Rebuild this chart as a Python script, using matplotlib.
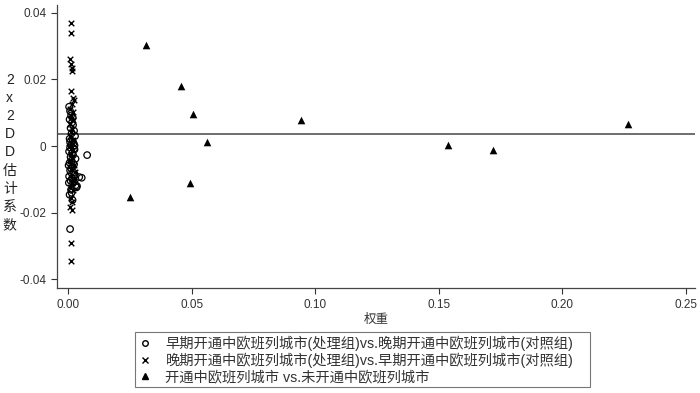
import matplotlib
matplotlib.use("Agg")
import matplotlib.pyplot as plt
from matplotlib.lines import Line2D

plt.rcParams['font.family'] = ['Liberation Sans', 'Noto Sans CJK SC']

# Series 1: early-opened (treated) vs late-opened (control)  -- circles
early_w = [0.0004, 0.0008, 0.0012, 0.0006, 0.0016, 0.0020, 0.0010, 0.0024, 0.0014, 0.0028,
           0.0006, 0.0018, 0.0022, 0.0012, 0.0008, 0.0026, 0.0004, 0.0016, 0.0020, 0.0010,
           0.0030, 0.0014, 0.0006, 0.0024, 0.0018, 0.0012, 0.0008, 0.0022, 0.0027, 0.0004,
           0.0016, 0.0010, 0.0020, 0.0030, 0.0034, 0.0012, 0.0006, 0.0018, 0.0077, 0.0055,
           0.0045, 0.0036, 0.0008, 0.0024, 0.0008, 0.0002, 0.0014, 0.0026, 0.0003, 0.0019]
early_b = [0.0118, 0.0105, 0.0092, 0.0080, 0.0071, 0.0063, 0.0054, 0.0046, 0.0038, 0.0030,
           0.0022, 0.0015, 0.0009, 0.0003, -0.0004, -0.0010, -0.0016, -0.0021, -0.0027, -0.0033,
           -0.0038, -0.0044, -0.0050, -0.0055, -0.0061, -0.0067, -0.0073, -0.0079, -0.0085, -0.0091,
           -0.0097, -0.0104, -0.0111, -0.0118, -0.0124, -0.0131, -0.0146, -0.0162, -0.0027, -0.0095,
           -0.0093, -0.0120, -0.0249, -0.0008, 0.0012, -0.0058, -0.0140, 0.0002, -0.0110, 0.0085]

# Series 2: late-opened (treated) vs early-opened (control)  -- crosses
late_w = [0.0010, 0.0010, 0.0008, 0.0012, 0.0014, 0.0016, 0.0010, 0.0018, 0.0022, 0.0014,
          0.0006, 0.0018, 0.0010, 0.0020, 0.0006, 0.0016, 0.0012, 0.0008, 0.0020, 0.0014,
          0.0004, 0.0018, 0.0010, 0.0016, 0.0008, 0.0022, 0.0012, 0.0026, 0.0008, 0.0018,
          0.0014, 0.0006, 0.0020, 0.0028, 0.0010, 0.0016, 0.0008, 0.0014, 0.0010, 0.0010]
late_b = [0.0370, 0.0340, 0.0260, 0.0245, 0.0233, 0.0226, 0.0166, 0.0143, 0.0138, 0.0125,
          0.0112, 0.0101, 0.0090, 0.0078, 0.0065, 0.0052, 0.0041, 0.0030, 0.0019, 0.0008,
          -0.0002, -0.0013, -0.0024, -0.0035, -0.0046, -0.0057, -0.0068, -0.0079, -0.0090, -0.0101,
          -0.0112, -0.0122, -0.0133, -0.0100, -0.0157, -0.0168, -0.0183, -0.0192, -0.0292, -0.0345]

# Series 3: opened vs never-opened  -- triangles
never_w = [0.0317, 0.0457, 0.0505, 0.0562, 0.0941, 0.0494, 0.0249, 0.1538, 0.1720, 0.2264]
never_b = [0.0303, 0.0180, 0.0095, 0.0013, 0.0077, -0.0110, -0.0154, 0.0004, -0.0013, 0.0065]

overall = 0.0035

xticks = [0.00, 0.05, 0.10, 0.15, 0.20, 0.25]
xticklabels = ["0.00", "0.05", "0.10", "0.15", "0.20", "0.25"]
yticks = [-0.04, -0.02, 0, 0.02, 0.04]
yticklabels = ["-0.04", "-0.02", "0", "0.02", "0.04"]

labels = ["早期开通中欧班列城市(处理组)vs.晚期开通中欧班列城市(对照组)",
          "晚期开通中欧班列城市(处理组)vs.早期开通中欧班列城市(对照组)",
          "开通中欧班列城市 vs.未开通中欧班列城市"]

fig = plt.figure(figsize=(7.0, 3.93), dpi=100)
ax = fig.add_axes([0.0814, 0.267, 0.912, 0.72])

ax.scatter(early_w, early_b, marker='o', s=22, facecolors='none', edgecolors='black', linewidths=0.9, zorder=3)
ax.scatter(late_w, late_b, marker='x', s=16, color='black', linewidths=1.0, zorder=3)
ax.scatter(never_w, never_b, marker='^', s=30, color='black', linewidths=0, zorder=3)
ax.axhline(overall, color='#555555', linewidth=1.2, zorder=2)

ax.set_xlim(-0.0045, 0.2538)
ax.set_ylim(-0.0426, 0.0423)
ax.set_xticks(xticks)
ax.set_xticklabels(xticklabels)
ax.set_yticks(yticks)
ax.set_yticklabels(yticklabels)
ax.tick_params(axis='both', labelsize=8.5, colors='#333333', length=4, width=0.8)
ax.tick_params(axis='x', pad=4)
for s in ['top', 'right']:
    ax.spines[s].set_visible(False)
for s in ['left', 'bottom']:
    ax.spines[s].set_color('#444444')
    ax.spines[s].set_linewidth(0.9)

ax.set_xlabel("权重", fontsize=9, color='#333333', labelpad=2)
fig.text(0.014, 0.612, "\n".join("2x2DD估计系数"), ha='center', va='center',
         fontsize=10, color='#222222', linespacing=1.38)

handles = [
    Line2D([], [], marker='o', linestyle='none', markerfacecolor='none', markeredgecolor='black', markersize=4, markeredgewidth=1.0),
    Line2D([], [], marker='x', linestyle='none', color='black', markersize=4, markeredgewidth=1.0),
    Line2D([], [], marker='^', linestyle='none', color='black', markersize=5),
]
leg = fig.legend(handles, labels, loc='upper left', bbox_to_anchor=(0.193, 0.008, 0.65, 0.147),
                 fontsize=10.3, frameon=True, fancybox=False, borderpad=0.22, labelspacing=0.15,
                 handlelength=1.0, handletextpad=0.9, mode='expand', borderaxespad=0,
                 labelcolor='#333333')
leg.get_frame().set_edgecolor('#555555')
leg.get_frame().set_linewidth(0.8)

fig.savefig("out.png", dpi=100)
